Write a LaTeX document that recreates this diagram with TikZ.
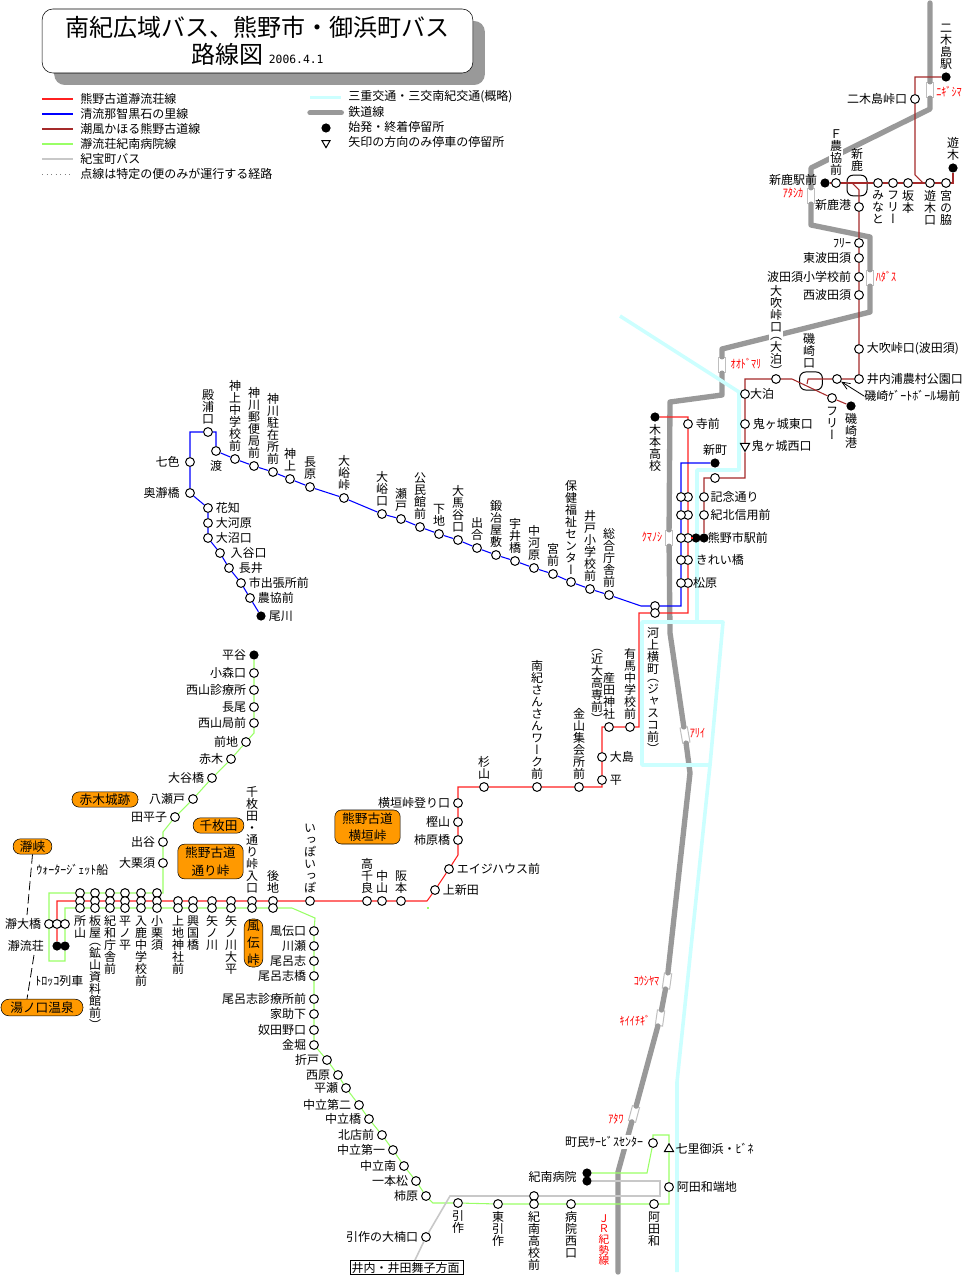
\documentclass[tikz,border=0pt]{standalone}
\usepackage{fontspec}
\usepackage{xcolor}
\usepackage{tikz}
\setmainfont{Noto Sans CJK JP}
\newfontfamily\tatefont[RawFeature=+vert]{Noto Sans CJK JP}
\newfontfamily\numfont{DejaVu Sans Mono}
\newfontfamily\narrowfont[FakeStretch=0.85]{Noto Sans CJK JP}
\usetikzlibrary{shapes.geometric,arrows.meta,backgrounds}
\definecolor{routered}{HTML}{FF2020}
\definecolor{routeblue}{HTML}{0000FF}
\definecolor{routebrown}{HTML}{A52A2A}
\definecolor{routegreen}{HTML}{99FF66}
\definecolor{routegray}{HTML}{C8C8C8}
\definecolor{railgray}{HTML}{999999}
\definecolor{miecyan}{HTML}{CCFFFF}
\definecolor{spotorange}{HTML}{FF9900}
\makeatletter
\def\tate@lp{（}
\def\tate@rp{）}
\newcommand\tate[1]{\vbox{\tatefont\baselineskip=1em\lineskiplimit=-20pt\@tfor\tatechar:=#1\do{%
  \ifx\tatechar\tate@lp\vskip-0.33em\fi
  \hbox to 1em{\hss\tatechar\hss}%
  \ifx\tatechar\tate@rp\vskip-0.33em\fi}}}
\makeatother
\begin{document}
\begin{tikzpicture}[x=0.75pt,y=-0.75pt,
    every label/.style={inner sep=1pt, font=\fontsize{9pt}{10pt}\selectfont},
    label distance=1pt,
    stop/.style={circle, draw, fill=white, line width=0.75pt, inner sep=0pt, minimum size=6.6pt},
    term/.style={circle, fill=black, inner sep=0pt, minimum size=6.9pt},
    updown/.style={regular polygon, regular polygon sides=3, draw, fill=white, line width=0.75pt, inner sep=0pt, minimum size=9pt},
    loopbox/.style={draw, fill=none, rounded corners=4.5pt, line width=0.75pt, inner sep=0pt},
    station/.style={draw=lightgray, fill=white, line width=0.75pt, minimum width=5.5pt, minimum height=11.5pt, inner sep=0pt},
    stationname/.style={text=red, inner sep=0pt, font=\fontsize{9pt}{10pt}\selectfont\narrowfont},
    plain/.style={inner sep=0pt, font=\fontsize{9pt}{10pt}\selectfont},
    spot/.style={draw, fill=spotorange, rounded corners=5pt, inner sep=0pt, align=center, font=\fontsize{9.5pt}{13pt}\selectfont},
    titlebox/.style={draw, fill=white, rounded corners=8pt, minimum width=323pt, minimum height=48pt, inner sep=0pt, align=center},
    rail/.style={railgray, line width=4pt, line join=round, line cap=round},
    mieline/.style={miecyan, line width=2.7pt, line join=round},
    redline/.style={routered, line width=0.8pt},
    blueline/.style={routeblue, line width=0.8pt},
    brownline/.style={routebrown, line width=0.8pt},
    greenline/.style={routegreen, line width=0.8pt},
    grayline/.style={routegray, line width=1.2pt, line join=miter}
]
\useasboundingbox (0,0) rectangle (964,1276);

\node[titlebox, fill=railgray, draw=none] (titleshadow) at (269.5,53) {};
\node[titlebox] (title) at (257.5,41) {\fontsize{18pt}{22pt}\selectfont 南紀広域バス、熊野市・御浜町バス\\[3pt]\fontsize{18pt}{22pt}\selectfont 路線図 \fontsize{8.5pt}{22pt}\numfont 2006.4.1};

\node[plain, anchor=west] (lgred) at (80,99) {熊野古道瀞流荘線};
\node[plain, anchor=west] (lgblue) at (80,114) {清流那智黒石の里線};
\node[plain, anchor=west] (lgbrown) at (80,129) {潮風かほる熊野古道線};
\node[plain, anchor=west] (lggreen) at (80,144) {瀞流荘紀南病院線};
\node[plain, anchor=west] (lggray) at (80,159) {紀宝町バス};
\node[plain, anchor=west] (lgdots) at (80,174) {点線は特定の便のみが運行する経路};
\node[plain, anchor=west] (lgmie) at (348,96.5) {三重交通・三交南紀交通(概略)};
\node[plain, anchor=west] (lgrail) at (348,111.5) {鉄道線};
\node[plain, anchor=west] (lgterm) at (348,127) {始発・終着停留所};
\node[plain, anchor=west] (lgarrow) at (348,142) {矢印の方向のみ停車の停留所};
\node[term] (lgdot) at (326,128) {};
\node[updown, shape border rotate=180, minimum size=7pt] (lgtri) at (326,143) {};

\node[spot, minimum width=49.5pt, minimum height=11.5pt, rounded corners=5.5pt] (akagijo) at (105,799.5) {赤木城跡};
\node[spot, minimum width=38pt, minimum height=11.5pt, rounded corners=5.5pt] (senmaida) at (218.5,825.5) {千枚田};
\node[spot, minimum width=49pt, minimum height=26pt] (torikoshi) at (210.5,861.5) {熊野古道\\通り峠};
\node[spot, minimum width=29pt, minimum height=11.5pt, rounded corners=5.5pt] (dokyo) at (32.5,846.5) {瀞峡};
\node[spot, minimum width=61.5pt, minimum height=12.5pt, rounded corners=6pt] (yunokuchi) at (42,1007.5) {湯ノ口温泉};
\node[spot, minimum width=14pt, minimum height=36pt, rounded corners=6pt] (fuden) at (253.5,943) {風\\伝\\峠};
\node[spot, minimum width=49pt, minimum height=25.5pt] (yokogaki) at (367.5,827) {熊野古道\\横垣峠};

\node[plain, anchor=west] (waterjet) at (36,870) {ｳｫｰﾀｰｼﾞｪｯﾄ船};
\node[plain, anchor=west] (torokko) at (35,981) {ﾄﾛｯｺ列車};
\node[draw, plain, inner xsep=1pt, text width=83pt, align=left, minimum height=11pt, line width=0.75pt] (imiuchi) at (407,1267.5) {井内・井田舞子方面};
\coordinate (dokyoend) at (27,915);
\coordinate (torokkotop) at (34,955);
\coordinate (yunotop) at (27,999);
\coordinate (imiuchitop) at (415,1260);
\coordinate (railN) at (930,3);
\coordinate (railS) at (618,1272);

\node[term, label={above:\tate{二木島駅}}] (nigishima) at (946,77) {};
\node[stop, label={left:二木島峠口}] (nigitoge) at (915,99) {};
\node[term, label={above:\tate{遊木}}] (yuki) at (953,168) {};
\node[stop, label={below:\tate{宮の脇}}] (miyanowaki) at (946,183) {};
\node[stop, label={below:\tate{遊木口}}] (yukiguchi) at (930,183) {};
\node[stop, label={below:\tate{坂本}}] (sakamoto) at (908,183) {};
\node[stop, label={below:\tate{フリー}}] (freeA) at (893,183) {};
\node[stop, label={below:\tate{みなと}}] (minato) at (878,183) {};
\node[loopbox, minimum width=15pt, minimum height=15.5pt, label={above:\tate{新鹿}}] (shikaloop) at (857,185.5) {};
\node[stop, label={[fill=white]above:\tate{Ｆ農協前}}] (fnokyo) at (836,183) {};
\node[term, label={[yshift=2pt]left:新鹿駅前}] (shikaeki) at (825,183) {};
\node[stop, label={[yshift=1.5pt]left:新鹿港}] (shikako) at (859,207) {};
\node[stop, label={left:ﾌﾘｰ}] (freeB) at (859,243) {};
\node[stop, label={left:東波田須}] (higashihadasu) at (859,258) {};
\node[stop, label={left:波田須小学校前}] (hadasusho) at (859,277) {};
\node[stop, label={left:西波田須}] (nishihadasu) at (859,295) {};
\node[stop, label={right:大吹峠口(波田須)}] (obukiH) at (859,349) {};
\node[stop, label={right:井内浦農村公園口}] (inaiura) at (859,379) {};
\node[stop] (gate) at (837,379) {};
\node[plain, anchor=west] (gatename) at (864,396) {磯崎ｹﾞｰﾄﾎﾞｰﾙ場前};
\node[loopbox, minimum width=17pt, minimum height=13.5pt, label={[xshift=-1.5pt]above:\tate{磯崎口}}] (isoloop) at (811,381) {};
\node[term, label={below:\tate{磯崎港}}] (isozakiko) at (851,406) {};
\node[stop, label={[yshift=-1pt]below:\tate{フリー}}] (freeC) at (832,398) {};
\node[stop, label={[fill=white]above:\tate{大吹峠口（大泊）}}] (obukiT) at (776,379) {};
\node[stop, label={[xshift=-2pt]right:大泊}] (otomari) at (745,394) {};
\node[stop, label={right:鬼ヶ城東口}] (onigaE) at (745,424) {};
\node[updown, shape border rotate=180, minimum size=8pt, label={right:鬼ヶ城西口}] (onigaW) at (745,446) {};
\node[stop] (kitaguchi) at (715,478) {};
\node[stop, label={[xshift=-1pt]right:記念通り}] (kinen) at (704,497) {};
\node[stop, label={[xshift=-1pt]right:紀北信用前}] (kihoku) at (704,515) {};
\node[term, label={[xshift=-3pt]right:熊野市駅前}] (kumanoshi) at (704,538) {};
\node[term] (kumanoshiR) at (696,538) {};

\node[term, label={below:\tate{木本高校}}] (kimoto) at (655,417) {};
\node[stop, label={right:寺前}] (teramae) at (688,424) {};
\node[term, label={above:新町}] (shinmachi) at (715,463) {};
\node[stop] (redA) at (688,497) {};
\node[stop] (redB) at (688,515) {};
\node[stop] (redC) at (688,538) {};
\node[stop, label={right:きれい橋}] (kirei) at (688,560) {};
\node[stop, label={[xshift=-2pt]right:松原}] (matsubara) at (688,583) {};
\node[stop] (blueA) at (681,497) {};
\node[stop] (blueB) at (681,515) {};
\node[stop] (blueC) at (681,538) {};
\node[stop] (blueD) at (681,560) {};
\node[stop] (blueE) at (681,583) {};
\node[stop] (kawakamiA) at (655,606) {};
\node[stop, label={[xshift=-1.5pt,yshift=-5pt]below:\tate{河上横町（ジャスコ前）}}] (kawakamiB) at (655,613) {};

\node[stop, label={above:\tate{総合庁舎前}}] (sogo) at (609,595) {};
\node[stop, label={above:\tate{井戸小学校前}}] (ido) at (590,589) {};
\node[stop, label={above:\tate{保健福祉センター}}] (hoken) at (571,582) {};
\node[stop, label={above:\tate{宮前}}] (miyamae) at (553,574) {};
\node[stop, label={above:\tate{中河原}}] (nakagawara) at (534,568) {};
\node[stop, label={above:\tate{宇井橋}}] (uibashi) at (515,561) {};
\node[stop, label={above:\tate{鍛冶屋敷}}] (kajiya) at (496,555) {};
\node[stop, label={above:\tate{出合}}] (deai) at (477,548) {};
\node[stop, label={above:\tate{大馬谷口}}] (oumadani) at (458,540) {};
\node[stop, label={above:\tate{下地}}] (shimoji) at (439,534) {};
\node[stop, label={above:\tate{公民館前}}] (kominkan) at (420,527) {};
\node[stop, label={above:\tate{瀬戸}}] (seto) at (401,519) {};
\node[stop, label={above:\tate{大峪口}}] (oekuchi) at (382,514) {};
\node[stop, label={above:\tate{大峪峠}}] (oetoge) at (344,498) {};
\node[stop, label={above:\tate{長原}}] (nagahara) at (310,487) {};
\node[stop, label={above:\tate{神上}}] (kounoue) at (290,479) {};
\node[stop, label={above:\tate{神川駐在所前}}] (chuzai) at (273,472) {};
\node[stop, label={above:\tate{神川郵便局前}}] (yubin) at (254,466) {};
\node[stop, label={above:\tate{神上中学校前}}] (kochu) at (235,459) {};
\node[stop, label={[yshift=-1pt]below:\tate{渡}}] (watari) at (216,451) {};
\node[stop, label={above:\tate{殿浦口}}] (tonoura) at (208,432) {};
\node[stop, label={[xshift=-2pt]left:七色}] (nanairo) at (190,462) {};
\node[stop, label={[xshift=-2pt]left:奥瀞橋}] (okudoro) at (190,493) {};
\node[stop, label={right:花知}] (hanachi) at (208,508) {};
\node[stop, label={right:大河原}] (okawara) at (208,523) {};
\node[stop, label={right:大沼口}] (onuma) at (208,538) {};
\node[stop, label={[xshift=2pt]right:入谷口}] (iritani) at (220,553) {};
\node[stop, label={[xshift=1.5pt]right:長井}] (nagai) at (229,568) {};
\node[stop, label={right:市出張所前}] (shide) at (241,583) {};
\node[stop, label={right:農協前}] (nokyo) at (250,598) {};
\node[term, label={right:尾川}] (ogawa) at (261,616) {};

\node[stop, label={above:\tate{有馬中学校前}}] (arima) at (630,727) {};
\node[stop, label={above:\tate{産田神社}}, label={[xshift=-9pt]above:\tate{（近大高専前）}}] (ubuta) at (609,727) {};
\node[stop, label={right:大島}] (oshima) at (602,757) {};
\node[stop, label={right:平}] (taira) at (602,780) {};
\node[stop, label={above:\tate{金山集会所前}}] (kanayama) at (579,787) {};
\node[stop, label={above:\tate{南紀さんさんワーク前}}] (nanki) at (537,787) {};
\node[stop, label={above:\tate{杉山}}] (sugiyama) at (484,787) {};
\node[stop, label={left:横垣峠登り口}] (noboriguchi) at (458,803) {};
\node[stop, label={left:樫山}] (kashiyama) at (458,822) {};
\node[stop, label={left:柿原橋}] (kakibashi) at (458,840) {};
\node[stop, label={right:エイジハウス前}] (eiji) at (449,869) {};
\node[stop, label={right:上新田}] (kamishinden) at (435,890) {};
\node[stop, label={above:\tate{阪本}}] (sakamotoB) at (401,901) {};
\node[stop, label={above:\tate{中山}}] (nakayama) at (382,901) {};
\node[stop, label={above:\tate{高千良}}] (takachira) at (367,901) {};
\node[stop, label={above:\tate{いっぽいっぽ}}] (ippo) at (310,901) {};

\node[term, label={left:平谷}] (hiratani) at (254,655) {};
\node[stop, label={left:小森口}] (komori) at (254,673) {};
\node[stop, label={left:西山診療所}] (nishiyamashin) at (254,690) {};
\node[stop, label={left:長尾}] (nagao) at (254,707) {};
\node[stop, label={left:西山局前}] (nishiyamakyoku) at (254,723) {};
\node[stop, label={left:前地}] (maeji) at (246,742) {};
\node[stop, label={left:赤木}] (akagi) at (231,759) {};
\node[stop, label={left:大谷橋}] (otani) at (212,778) {};
\node[stop, label={left:八瀬戸}] (yaseto) at (193,799) {};
\node[stop, label={left:田平子}] (tabirako) at (175,817) {};
\node[stop, label={left:出谷}] (detani) at (163,842) {};
\node[stop, label={left:大栗須}] (okurusu) at (163,863) {};

\node[stop] (tokoroA) at (80,893) {};
\node[stop] (itayaA) at (95,893) {};
\node[stop] (kiwaA) at (110,893) {};
\node[stop] (hiraA) at (125,893) {};
\node[stop] (irukaA) at (141,893) {};
\node[stop] (koguriA) at (157,893) {};
\node[stop] (tokoroB) at (80,901) {};
\node[stop] (itayaB) at (95,901) {};
\node[stop] (kiwaB) at (110,901) {};
\node[stop] (hiraB) at (125,901) {};
\node[stop] (irukaB) at (141,901) {};
\node[stop] (koguriB) at (157,901) {};
\node[stop] (kamijiB) at (178,901) {};
\node[stop] (kokokuB) at (193,901) {};
\node[stop] (yanoB) at (212,901) {};
\node[stop] (oodairaB) at (231,901) {};
\node[stop, label={above:\tate{千枚田・通り峠入口}}] (iriguchiB) at (252,901) {};
\node[stop, label={above:\tate{後地}}] (ushirojiB) at (273,901) {};
\node[stop, label={below:\tate{所山}}] (tokoroC) at (80,908) {};
\node[stop, label={below:\tate{板屋（鉱山資料館前）}}] (itayaC) at (95,908) {};
\node[stop, label={below:\tate{紀和庁舎前}}] (kiwaC) at (110,908) {};
\node[stop, label={below:\tate{平ノ平}}] (hiraC) at (125,908) {};
\node[stop, label={below:\tate{入鹿中学校前}}] (irukaC) at (141,908) {};
\node[stop, label={below:\tate{小栗須}}] (koguriC) at (157,908) {};
\node[stop, label={below:\tate{上地神社前}}] (kamijiC) at (178,908) {};
\node[stop, label={below:\tate{興国橋}}] (kokokuC) at (193,908) {};
\node[stop, label={below:\tate{矢ノ川}}] (yanoC) at (212,908) {};
\node[stop, label={below:\tate{矢ノ川大平}}] (oodairaC) at (231,908) {};
\node[stop] (iriguchiC) at (252,908) {};
\node[stop] (ushirojiC) at (273,908) {};

\node[stop, label={left:瀞大橋}] (ohashiA) at (49,924) {};
\node[stop] (ohashiB) at (57,924) {};
\node[stop] (ohashiC) at (65,924) {};
\node[term, label={[xshift=-4pt]left:瀞流荘}] (dorokyoA) at (57,946) {};
\node[term] (dorokyoB) at (65,946) {};

\node[stop, label={left:風伝口}] (fudenguchi) at (314,931) {};
\node[stop, label={left:川瀬}] (kawase) at (314,946) {};
\node[stop, label={left:尾呂志}] (oroshi) at (314,961) {};
\node[stop, label={left:尾呂志橋}] (oroshibashi) at (314,976) {};
\node[stop, label={left:尾呂志診療所前}] (oroshishin) at (314,999) {};
\node[stop, label={left:家助下}] (iesuke) at (314,1014) {};
\node[stop, label={left:奴田野口}] (nutano) at (314,1030) {};
\node[stop, label={left:金堀}] (kanabori) at (314,1045) {};
\node[stop, label={left:折戸}] (orito) at (327,1060) {};
\node[stop, label={left:西原}] (nishihara) at (338,1075) {};
\node[stop, label={left:平瀬}] (hirase) at (346,1088) {};
\node[stop, label={left:中立第二}] (nakadachi2) at (359,1105) {};
\node[stop, label={left:中立橋}] (nakabashi) at (369,1119) {};
\node[stop, label={left:北店前}] (kitadana) at (382,1135) {};
\node[stop, label={left:中立第一}] (nakadachi1) at (393,1150) {};
\node[stop, label={left:中立南}] (nakaminami) at (404,1166) {};
\node[stop, label={left:一本松}] (ipponmatsu) at (416,1181) {};
\node[stop, label={left:柿原}] (kakihara) at (426,1196) {};
\node[stop, label={below:\tate{引作}}] (hikitsukuri) at (458,1203) {};
\node[stop, label={left:引作の大楠口}] (okusu) at (426,1237) {};
\node[stop, label={below:\tate{東引作}}] (higashihiki) at (498,1204) {};
\node[stop] (kinanA) at (534,1196) {};
\node[stop, label={below:\tate{紀南高校前}}] (kinanB) at (534,1204) {};
\node[stop, label={below:\tate{病院西口}}] (byoin) at (571,1204) {};
\node[stop, label={below:\tate{阿田和}}] (atawa) at (654,1204) {};
\node[stop, label={right:阿田和端地}] (tanchi) at (669,1187) {};
\node[updown, minimum size=8pt, label={right:七里御浜・ﾋﾞﾈ}] (bine) at (669,1149) {};
\node[stop, label={[fill=white,xshift=-1.5pt,yshift=1pt]left:町民ｻｰﾋﾞｽｾﾝﾀｰ}] (chomin) at (653,1143) {};
\node[term, label={[xshift=-2pt,yshift=-3pt]left:紀南病院}] (hospitalA) at (587,1173) {};
\node[term] (hospitalB) at (587,1181) {};

\begin{scope}[on background layer]
\node[station] (nigi) at (930,90) {};
\node[station] (atashika) at (811,196) {};
\node[station] (hadasu) at (870,278) {};
\node[station] (odomari) at (722,365) {};
\node[station] (kumanosta) at (669,538) {};
\node[station, rotate=10] (arii) at (685,735) {};
\node[station, rotate=-8] (koshiyama) at (667,981) {};
\node[station, rotate=-8] (kiiichigi) at (660,1018) {};
\node[station, rotate=-15] (atawasta) at (634,1114) {};
\draw[rail] (railN) -- (nigi) -- (930,109) -- (811,168) -- (atashika) -- (811,225) -- (870,237) -- (hadasu) -- (870,312) -- (722,349) -- (odomari) -- (722,395) -- (670,402) -- (kumanosta) -- (670,633) -- (arii) -- (690,773) -- (koshiyama) -- (kiiichigi) -- (atawasta) -- (618,1172) -- (railS);
\draw[mieline] (620,316) -- (739,392) -- (739,470) -- (697,470) -- (697,622);
\draw[mieline] (642,622) -- (723,622) -- (710,765) -- (642,765) -- cycle;
\draw[mieline] (710,765) -- (677,1082) -- (677,1272);
\end{scope}

\node[stationname] (niginame) at (949,92) {ﾆｷﾞｼﾏ};
\node[stationname] (atashikaname) at (793,193) {ｱﾀｼｶ};
\node[stationname] (hadasuname) at (886,277) {ﾊﾀﾞｽ};
\node[stationname] (odomariname) at (746,364) {ｵｵﾄﾞﾏﾘ};
\node[stationname] (kumanoname) at (652,537) {ｸﾏﾉｼ};
\node[stationname] (ariiname) at (697.5,733) {ｱﾘｲ};
\node[stationname] (koshiname) at (646.5,981) {ｺｳｼﾔﾏ};
\node[stationname] (kiiname) at (635,1021) {ｷｲｲﾁｷﾞ};
\node[stationname] (atawaname) at (616,1119) {ｱﾀﾜ};
\node[text=red, inner sep=0pt, font=\fontsize{8pt}{9pt}\selectfont] (jrname) at (604,1240) {\tate{ＪＲ紀勢線}};

\draw[redline] (kimoto) -| (teramae) -- (redA) -- (redB) -- (redC) -- (kirei) -- (matsubara) -- (688,613) -- (kawakamiB) -- (639,613) -- (639,727) -- (arima) -- (ubuta) -- (602,727) -- (oshima) -- (taira) -- (602,787) -- (kanayama) -- (nanki) -- (sugiyama) -- (458,787) -- (noboriguchi) -- (kashiyama) -- (kakibashi) -- (458,855) -- (eiji) -- (kamishinden) -- (427,901) -- (sakamotoB) -- (nakayama) -- (takachira) -- (ippo) -- (ushirojiB) -- (iriguchiB) -- (oodairaB) -- (yanoB) -- (kokokuB) -- (kamijiB) -- (koguriB) -- (irukaB) -- (hiraB) -- (kiwaB) -- (itayaB) -- (tokoroB) -- (57,901) -- (ohashiB) -- (dorokyoA);
\draw[redline] (redC) -- (kumanoshiR);
\draw[blueline] (shinmachi) -| (blueA) -- (blueB) -- (blueC) -- (blueD) -- (blueE) -- (681,606) -- (kawakamiA) -- (641,606) -- (sogo) -- (ido) -- (hoken) -- (miyamae) -- (nakagawara) -- (uibashi) -- (kajiya) -- (deai) -- (oumadani) -- (shimoji) -- (kominkan) -- (seto) -- (oekuchi) -- (oetoge) -- (nagahara) -- (kounoue) -- (chuzai) -- (yubin) -- (kochu) -- (watari) |- (tonoura) -| (nanairo) -- (okudoro) -- (hanachi) -- (okawara) -- (onuma) -- (iritani) -- (nagai) -- (shide) -- (nokyo) -- (ogawa);
\draw[brownline] (nigishima) -| (nigitoge) -- (915,175) -- (923,183);
\draw[brownline] (shikaeki) -- (fnokyo) -- (minato) -- (freeA) -- (sakamoto) -- (yukiguchi) -- (miyanowaki) -- (953,183) -- (yuki);
\draw[brownline] (852,183) -- (859,190) -- (shikako) -- (freeB) -- (higashihadasu) -- (hadasusho) -- (nishihadasu) -- (obukiH) -- (inaiura) -- (gate) -- (808,379) -- (807,384);
\draw[brownline] (isozakiko) -- (freeC) -- (792,379) -- (obukiT) -- (745,379) -- (otomari) -- (onigaE) -- (onigaW) -- (745,478) -- (kitaguchi) -- (704,478) -- (kinen) -- (kihoku) -- (kumanoshi);
\draw[greenline] (hiratani) -- (komori) -- (nishiyamashin) -- (nagao) -- (nishiyamakyoku) -- (254,733) -- (maeji) -- (akagi) -- (otani) -- (yaseto) -- (tabirako) -- (163,832) -- (detani) -- (okurusu) -- (163,893) -- (koguriA) -- (irukaA) -- (hiraA) -- (kiwaA) -- (itayaA) -- (tokoroA) -- (49,893) -- (ohashiA) -- (49,961) -- (65,961) -- (dorokyoB) -- (ohashiC) -- (65,908) -- (tokoroC) -- (itayaC) -- (kiwaC) -- (hiraC) -- (irukaC) -- (koguriC) -- (kamijiC) -- (kokokuC) -- (yanoC) -- (oodairaC) -- (iriguchiC) -- (ushirojiC) -- (292,908) -- (315,918) -- (fudenguchi) -- (kawase) -- (oroshi) -- (oroshibashi) -- (oroshishin) -- (iesuke) -- (nutano) -- (kanabori) -- (orito) -- (nishihara) -- (hirase) -- (nakadachi2) -- (nakabashi) -- (kitadana) -- (nakadachi1) -- (nakaminami) -- (ipponmatsu) -- (kakihara) -- (433,1203) -- (hikitsukuri) -- (higashihiki) -- (kinanB) -- (byoin) -- (atawa) -- (669,1204) -- (tanchi) -- (bine) -- (669,1135) -- (653,1135) -- (chomin) -- (647,1173) -- (hospitalA);
\draw[greenline] (428,907) -- (428,909);
\draw[grayline] (hospitalB) -- (660,1181) -- (660,1196) -- (kinanA) -- (450,1196) -- (okusu) -- (imiuchitop);
\draw[-{Straight Barb[length=6pt,width=5pt]}, line width=0.6pt] (gatename.west) -- (gate);
\draw[dashed, dash pattern=on 7pt off 3pt, line width=0.6pt] (dokyo.south) -- (dokyoend);
\draw[dashed, dash pattern=on 7pt off 3pt, line width=0.6pt] (torokkotop) -- (yunotop);

\draw[redline] ([xshift=-28.5pt]lgred.west) -- ([xshift=-5pt]lgred.west);
\draw[blueline] ([xshift=-28.5pt]lgblue.west) -- ([xshift=-5pt]lgblue.west);
\draw[brownline] ([xshift=-28.5pt]lgbrown.west) -- ([xshift=-5pt]lgbrown.west);
\draw[greenline] ([xshift=-28.5pt]lggreen.west) -- ([xshift=-5pt]lggreen.west);
\draw[grayline] ([xshift=-28.5pt]lggray.west) -- ([xshift=-5pt]lggray.west);
\draw[gray, dash pattern=on 0.8pt off 2.6pt, line width=0.6pt] ([xshift=-28.5pt]lgdots.west) -- ([xshift=-5pt]lgdots.west);
\draw[mieline] ([xshift=-28.5pt,yshift=-0.7pt]lgmie.west) -- ([xshift=-5pt,yshift=-0.7pt]lgmie.west);
\draw[rail] ([xshift=-28.5pt,yshift=-1pt]lgrail.west) -- ([xshift=-5pt,yshift=-1pt]lgrail.west);
\end{tikzpicture}
\end{document}
